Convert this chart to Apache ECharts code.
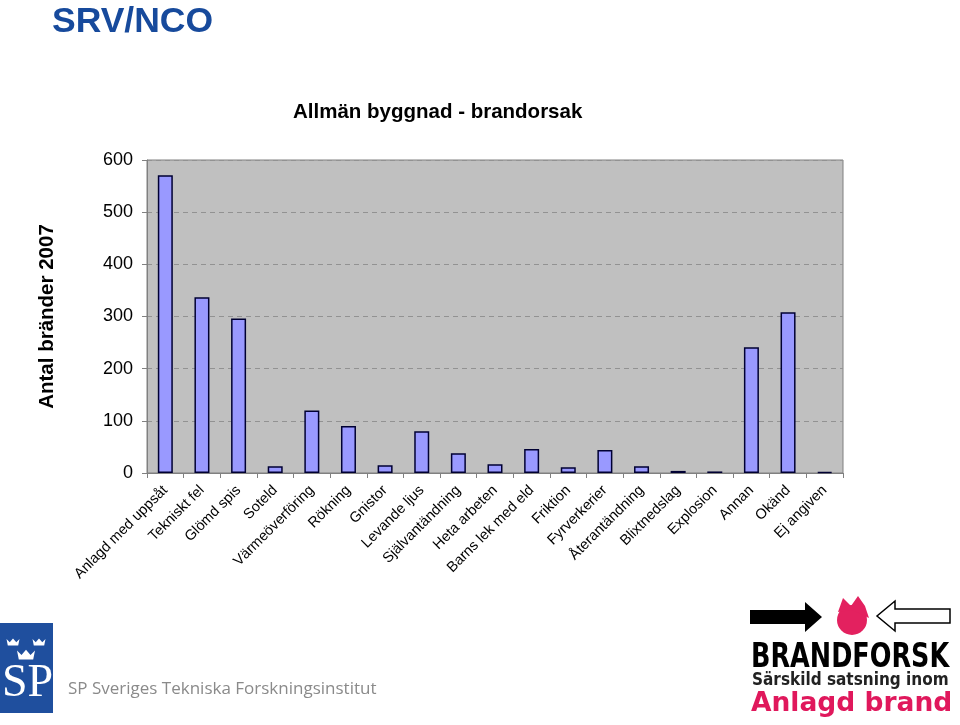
<!DOCTYPE html>
<html><head><meta charset="utf-8">
<script src="https://cdn.jsdelivr.net/npm/echarts@6/dist/echarts.min.js"></script>
<style>html,body{margin:0;padding:0;background:#fff}#c{width:960px;height:725px}</style>
</head><body><div id="c"></div>
<script>
const categories = ["Anlagd med uppsåt","Tekniskt fel","Glömd spis","Soteld","Värmeöverföring","Rökning","Gnistor","Levande ljus","Självantändning","Heta arbeten","Barns lek med eld","Friktion","Fyrverkerier","Återantändning","Blixtnedslag","Explosion","Annan","Okänd","Ej angiven"];
const values = [571,337,296,13,120,90,15,80,38,17,46,11,44,13,4,3,241,308,2];
const yTicks = [0,100,200,300,400,500,600];

const chart = echarts.init(document.getElementById('c'), null, {renderer:'canvas'});
const crown = (cx, cy, s) => ({
  type:'polygon', shape:{points:[[cx-5*s,cy-3*s],[cx-2.5*s,cy-0.5*s],[cx,cy-3.5*s],[cx+2.5*s,cy-0.5*s],[cx+5*s,cy-3*s],[cx+4*s,cy+2*s],[cx-4*s,cy+2*s]]},
  style:{fill:'#fff'}
});
chart.setOption({
  animation:false,
  title:{text:'Allmän byggnad - brandorsak', left:288, top:97,
    textStyle:{fontFamily:'Liberation Sans, Arial', fontSize:20.5, fontWeight:'bold', color:'#000'}},
  grid:{left:147, right:117, top:160, bottom:252, show:true, backgroundColor:'#c0c0c0', borderColor:'#808080', borderWidth:1},
  xAxis:{type:'category', data:categories,
    axisLine:{lineStyle:{color:'#808080', width:1}},
    axisTick:{show:true, alignWithLabel:false, length:5, lineStyle:{color:'#808080'}},
    axisLabel:{interval:0, rotate:45, margin:15, fontFamily:'Liberation Sans, Arial', fontSize:14.5, color:'#000'}},
  yAxis:{type:'value', min:0, max:600, interval:100,
    name:'Antal bränder 2007', nameLocation:'middle', nameGap:89, nameRotate:90,
    nameTextStyle:{fontFamily:'Liberation Sans, Arial', fontSize:20.5, fontWeight:'bold', color:'#000'},
    axisLine:{show:true, lineStyle:{color:'#808080'}},
    axisTick:{show:true, length:5, lineStyle:{color:'#808080'}},
    axisLabel:{margin:14, fontFamily:'Liberation Sans, Arial', fontSize:18, color:'#000',
      formatter: v => yTicks.includes(v) ? String(v) : ''},
    splitLine:{show:true, lineStyle:{color:'#929292', type:[5,4], width:1}}},
  series:[{type:'bar', data:values, barWidth:15,
    itemStyle:{color:'#9999ff', borderColor:'#000033', borderWidth:1.5}}],
  graphic:[
    {type:'text', left:52, top:4, style:{text:'SRV/NCO', fontFamily:'Liberation Sans, Arial', fontSize:35.5, fontWeight:'bold', fill:'#174a9c'}},
    {type:'rect', shape:{x:0, y:623, width:53, height:90}, style:{fill:'#1f4f9e'}},
    crown(13, 643, 1.3), crown(39, 643, 1.3), crown(26, 656, 1.8),
    {type:'text', x:2, y:661, style:{text:'SP', fontFamily:'Liberation Serif, serif', fontSize:46, fill:'#fff'}},
    {type:'text', x:68, y:681, style:{text:'SP Sveriges Tekniska Forskningsinstitut', fontFamily:'Open Sans, sans-serif', fontSize:17, fill:'#8a8a8a'}},
    {type:'polygon', shape:{points:[[750,610],[805,610],[805,602],[822,617],[805,632],[805,624],[750,624]]}, style:{fill:'#000'}},
    {type:'polygon', shape:{points:[[950,609],[895,609],[895,601],[877,616],[895,631],[895,623],[950,623]]}, style:{fill:'#fff', stroke:'#000', lineWidth:1.5}},
    {type:'circle', shape:{cx:852, cy:620, r:15}, style:{fill:'#e3215f'}},
    {type:'polygon', shape:{points:[[838,612],[843,598],[851,606],[858,596],[865,606],[869,618],[852,610]]}, style:{fill:'#e3215f'}},
    {type:'text', x:751, y:641, scaleY:1.3, style:{text:'BRANDFORSK', fontFamily:'DejaVu Sans, sans-serif', fontSize:25.5, fontWeight:'bold', fill:'#000'}},
    {type:'text', x:752, y:671, scaleY:1.2, style:{text:'Särskild satsning inom', fontFamily:'DejaVu Sans, sans-serif', fontSize:15.3, fontWeight:'bold', fill:'#222'}},
    {type:'text', x:751, y:691, style:{text:'Anlagd brand', fontFamily:'DejaVu Sans, sans-serif', fontSize:26.5, fontWeight:'bold', fill:'#e0185c'}}
  ]
});
</script></body></html>
